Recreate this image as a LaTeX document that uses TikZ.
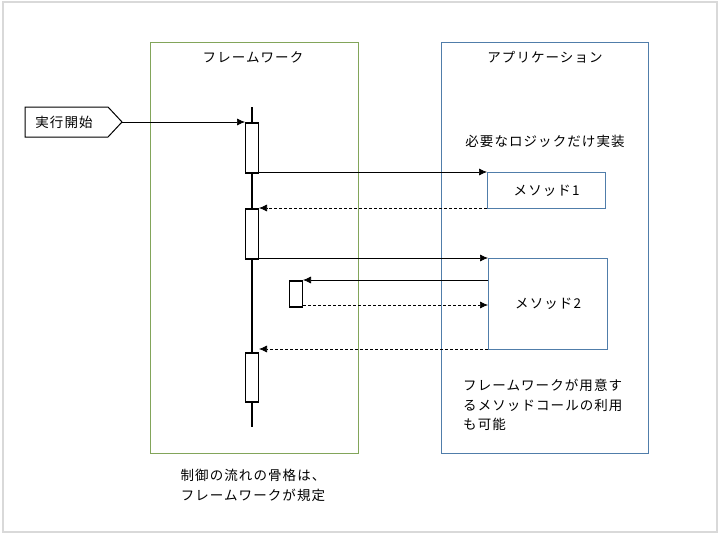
\documentclass[tikz,border=0pt]{standalone}
\usepackage{fontspec}
\setmainfont[LetterSpace=8]{Noto Sans CJK JP}
\usetikzlibrary{arrows.meta}
\definecolor{appblue}{RGB}{80,125,170}
\definecolor{fwgreen}{RGB}{130,165,90}
\begin{document}
\begin{tikzpicture}[x=1pt,y=-1pt,
  txt/.style={font=\fontsize{13.5}{13}\selectfont, inner sep=0},
  act/.style={draw, line width=1.6pt, fill=white, minimum width=13pt, inner sep=0, anchor=north},
  meth/.style={draw=appblue, line width=1.2pt, inner sep=0, anchor=north west, fill=white},
  arr/.style={-{Latex[length=8pt,width=7pt]}, line width=0.7pt},
  darr/.style={arr, densely dashed}]
\useasboundingbox (0,0) rectangle (720,535);
\draw[gray!30, line width=1.2pt] (3,2) rectangle (717,532);
\draw[fwgreen, line width=1pt] (150,43) rectangle (358,453);
\draw[appblue, line width=1pt] (441,43) rectangle (648,453);
\node[txt] (t1) at (253,57) {フレームワーク};
\node[txt] (t2) at (545,57) {アプリケーション};
\draw[line width=1pt, fill=white] (25,107) -- (108,107) -- (122,122) -- (108,137) -- (25,137) -- cycle;
\node[txt] (start) at (64,122) {実行開始};
\coordinate (sp) at (122,122);
\draw[line width=1.6pt] (252,107) coordinate (lt) -- (252,427) coordinate (lb);
\node[act, minimum height=50pt] (a1) at (252,122) {};
\node[act, minimum height=50pt] (a2) at (252,208) {};
\node[act, minimum height=49pt] (a3) at (252,352) {};
\node[act, minimum height=26pt] (a4) at (296,280) {};
\node[meth, minimum width=118pt, minimum height=36pt] (m1) at (487,172) {};
\node[txt] at (m1.center) {メソッド1};
\node[meth, minimum width=119pt, minimum height=91pt] (m2) at (488,258) {};
\node[txt] at (m2.center) {メソッド2};
\draw[arr] (sp) -- (245,122);
\draw[arr] (259,172) -- (487,172);
\draw[darr] (487,208) -- (259,208);
\draw[arr] (259,258) -- (488,258);
\draw[arr] (488,280) -- (303,280);
\draw[darr] (303,305) -- (488,305);
\draw[darr] (488,349) -- (259,349);
\node[txt] (n1) at (545,141) {必要なロジックだけ実装};
\node[txt, anchor=west, align=left, text width=180pt, font=\fontsize{13.5}{19.5}\selectfont] (n2) at (463,405) {フレームワークが用意す\\るメソッドコールの利用\\も可能};
\node[txt, align=center, font=\fontsize{13.5}{20}\selectfont] (n3) at (253,485) {制御の流れの骨格は、\\フレームワークが規定};
\end{tikzpicture}
\end{document}
